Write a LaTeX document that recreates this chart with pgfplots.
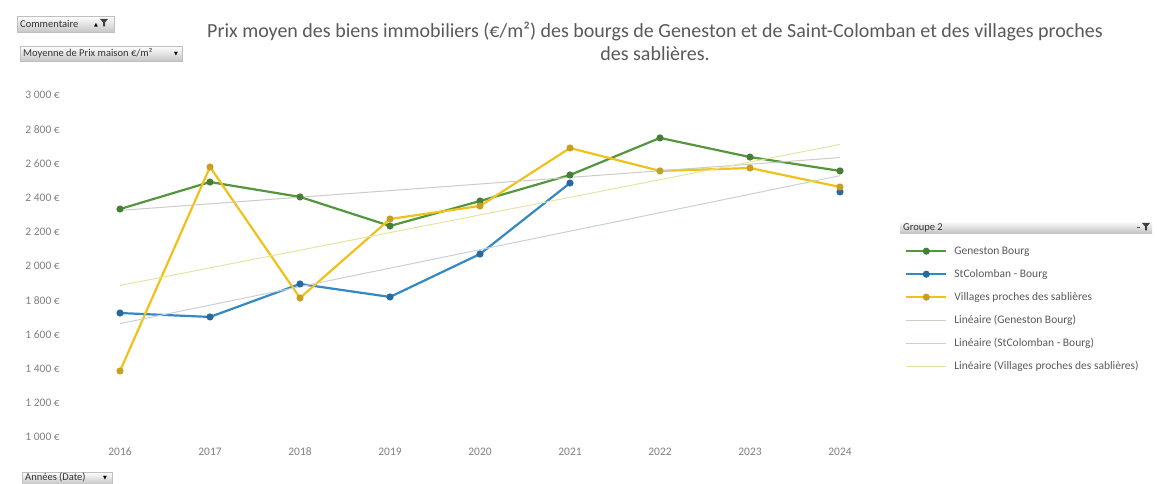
\documentclass[border=0pt]{standalone}
\usepackage{fontspec}
\setmainfont{Carlito}
\newfontfamily\symfont{DejaVu Sans}
\usepackage{pgfplots}
\pgfplotsset{compat=1.18}

\definecolor{geneston}{RGB}{84,150,62}
\definecolor{genestonmk}{RGB}{70,125,55}
\definecolor{colomban}{RGB}{52,136,196}
\definecolor{colombanmk}{RGB}{40,105,160}
\definecolor{villages}{RGB}{238,194,26}
\definecolor{villagesmk}{RGB}{200,160,30}
\definecolor{trendg}{RGB}{200,205,198}
\definecolor{trendb}{RGB}{200,207,216}
\definecolor{trendy}{RGB}{226,230,160}
\definecolor{textgray}{RGB}{89,89,89}
\definecolor{tickgray}{RGB}{128,128,128}

% filter funnel icon
\newcommand{\funnel}[2]{\fill[black!75] (#1pt,#2pt) -- ++(8pt,0) -- ++(-3pt,-3.5pt) -- ++(0,-4pt) -- ++(-2pt,0) -- ++(0,4pt) -- cycle;}

\begin{document}
\begin{tikzpicture}
\useasboundingbox (0,0) rectangle (1157pt,484pt);

% pivot field buttons
\shade[top color=white, bottom color=black!22, draw=black!25] (17pt,452pt) rectangle (114pt,468pt);
\node[anchor=base west, inner sep=0pt, font=\fontsize{10.5}{12}\selectfont, text=black!80] at (20pt,456pt) {Commentaire};
\node[anchor=base west, inner sep=0pt, font=\symfont\fontsize{5}{6}\selectfont] at (94pt,457pt) {▲};
\funnel{100}{465}
\shade[top color=white, bottom color=black!22, draw=black!25] (20pt,423pt) rectangle (182pt,438pt);
\node[anchor=base west, inner sep=0pt, font=\fontsize{10.5}{12}\selectfont, text=black!80] at (23pt,427pt) {Moyenne de Prix maison €/m²};
\node[anchor=base west, inner sep=0pt, font=\symfont\fontsize{5}{6}\selectfont] at (174pt,428pt) {▼};
\shade[top color=white, bottom color=black!22, draw=black!25] (22pt,0pt) rectangle (112pt,12pt);
\node[anchor=base west, inner sep=0pt, font=\fontsize{10.5}{12}\selectfont, text=black!80] at (25pt,3pt) {Années (Date)};
\node[anchor=base west, inner sep=0pt, font=\symfont\fontsize{5}{6}\selectfont] at (103pt,4pt) {▼};

% title
\node[anchor=base, inner sep=0pt, font=\fontsize{20}{22}\selectfont, text=textgray] at (655pt,446pt)
  {Prix moyen des biens immobiliers (€/m²) des bourgs de Geneston et de Saint-Colomban et des villages proches};
\node[anchor=base, inner sep=0pt, font=\fontsize{20}{22}\selectfont, text=textgray] at (655pt,423pt)
  {des sablières.};

% legend header
\shade[top color=white, bottom color=black!25] (900pt,250pt) rectangle (1152pt,263pt);
\node[anchor=base west, inner sep=0pt, font=\fontsize{10.5}{12}\selectfont, text=black!80] at (903pt,253pt) {Groupe 2};
\fill[black!70] (1137pt,256pt) rectangle (1140pt,257pt);
\funnel{1142}{261}

\begin{axis}[
    at={(75pt,47pt)}, anchor=south west,
    scale only axis, width=810pt, height=342pt,
    xmin=-0.5, xmax=8.5, ymin=1000, ymax=3000,
    axis line style={draw=none},
    major tick length=0pt,
    xtick={0,1,2,3,4,5,6,7,8},
    xticklabels={2016,2017,2018,2019,2020,2021,2022,2023,2024},
    ytick={1000,1200,1400,1600,1800,2000,2200,2400,2600,2800,3000},
    yticklabels={{1 000 €},{1 200 €},{1 400 €},{1 600 €},{1 800 €},{2 000 €},{2 200 €},{2 400 €},{2 600 €},{2 800 €},{3 000 €}},
    /pgf/number format/assume math mode=true,
    tick label style={font=\fontsize{11.5}{13}\selectfont, text=tickgray},
    yticklabel style={anchor=east, inner sep=0pt, xshift=-15pt},
    xticklabel style={anchor=base, inner sep=0pt, yshift=-19pt},
    unbounded coords=jump,
    legend cell align=left,
    legend image code/.code={\draw[mark repeat=2,mark phase=2,#1] plot coordinates {(0pt,0pt)(20pt,0pt)(40pt,0pt)};},
    legend style={at={(1.0247,0.5585)}, anchor=north west, draw=none, fill=none,
        inner sep=0pt, row sep=13pt, column sep=7pt,
        nodes={inner sep=0pt, text height=8pt, text depth=2pt},
        font=\fontsize{11.5}{12}\selectfont, text=textgray},
]
\addplot[color=geneston, line width=2.2pt, mark=*, mark size=2.4pt, mark options={fill=genestonmk, draw=genestonmk}]
coordinates {(0,2333) (1,2491) (2,2404) (3,2234) (4,2380) (5,2532) (6,2749) (7,2637) (8,2556)};
\addlegendentry{Geneston Bourg}
\addplot[color=colomban, line width=2.2pt, mark=*, mark size=2.4pt, mark options={fill=colombanmk, draw=colombanmk}]
coordinates {(0,1725) (1,1702) (2,1895) (3,1819) (4,2070) (5,2485) (6,nan) (7,nan) (8,2433)};
\addlegendentry{StColomban - Bourg}
\addplot[color=villages, line width=2.2pt, mark=*, mark size=2.4pt, mark options={fill=villagesmk, draw=villagesmk}]
coordinates {(0,1386) (1,2579) (2,1813) (3,2275) (4,2351) (5,2690) (6,2556) (7,2573) (8,2462)};
\addlegendentry{Villages proches des sablières}
\addplot[color=trendg, line width=1pt] coordinates {(0,2325) (8,2634)};
\addlegendentry{Linéaire (Geneston Bourg)}
\addplot[color=trendb, line width=1pt] coordinates {(0,1663) (8,2528)};
\addlegendentry{Linéaire (StColomban - Bourg)}
\addplot[color=trendy, line width=1pt] coordinates {(0,1886) (8,2711)};
\addlegendentry{Linéaire (Villages proches des sablières)}
\end{axis}
\end{tikzpicture}
\end{document}
